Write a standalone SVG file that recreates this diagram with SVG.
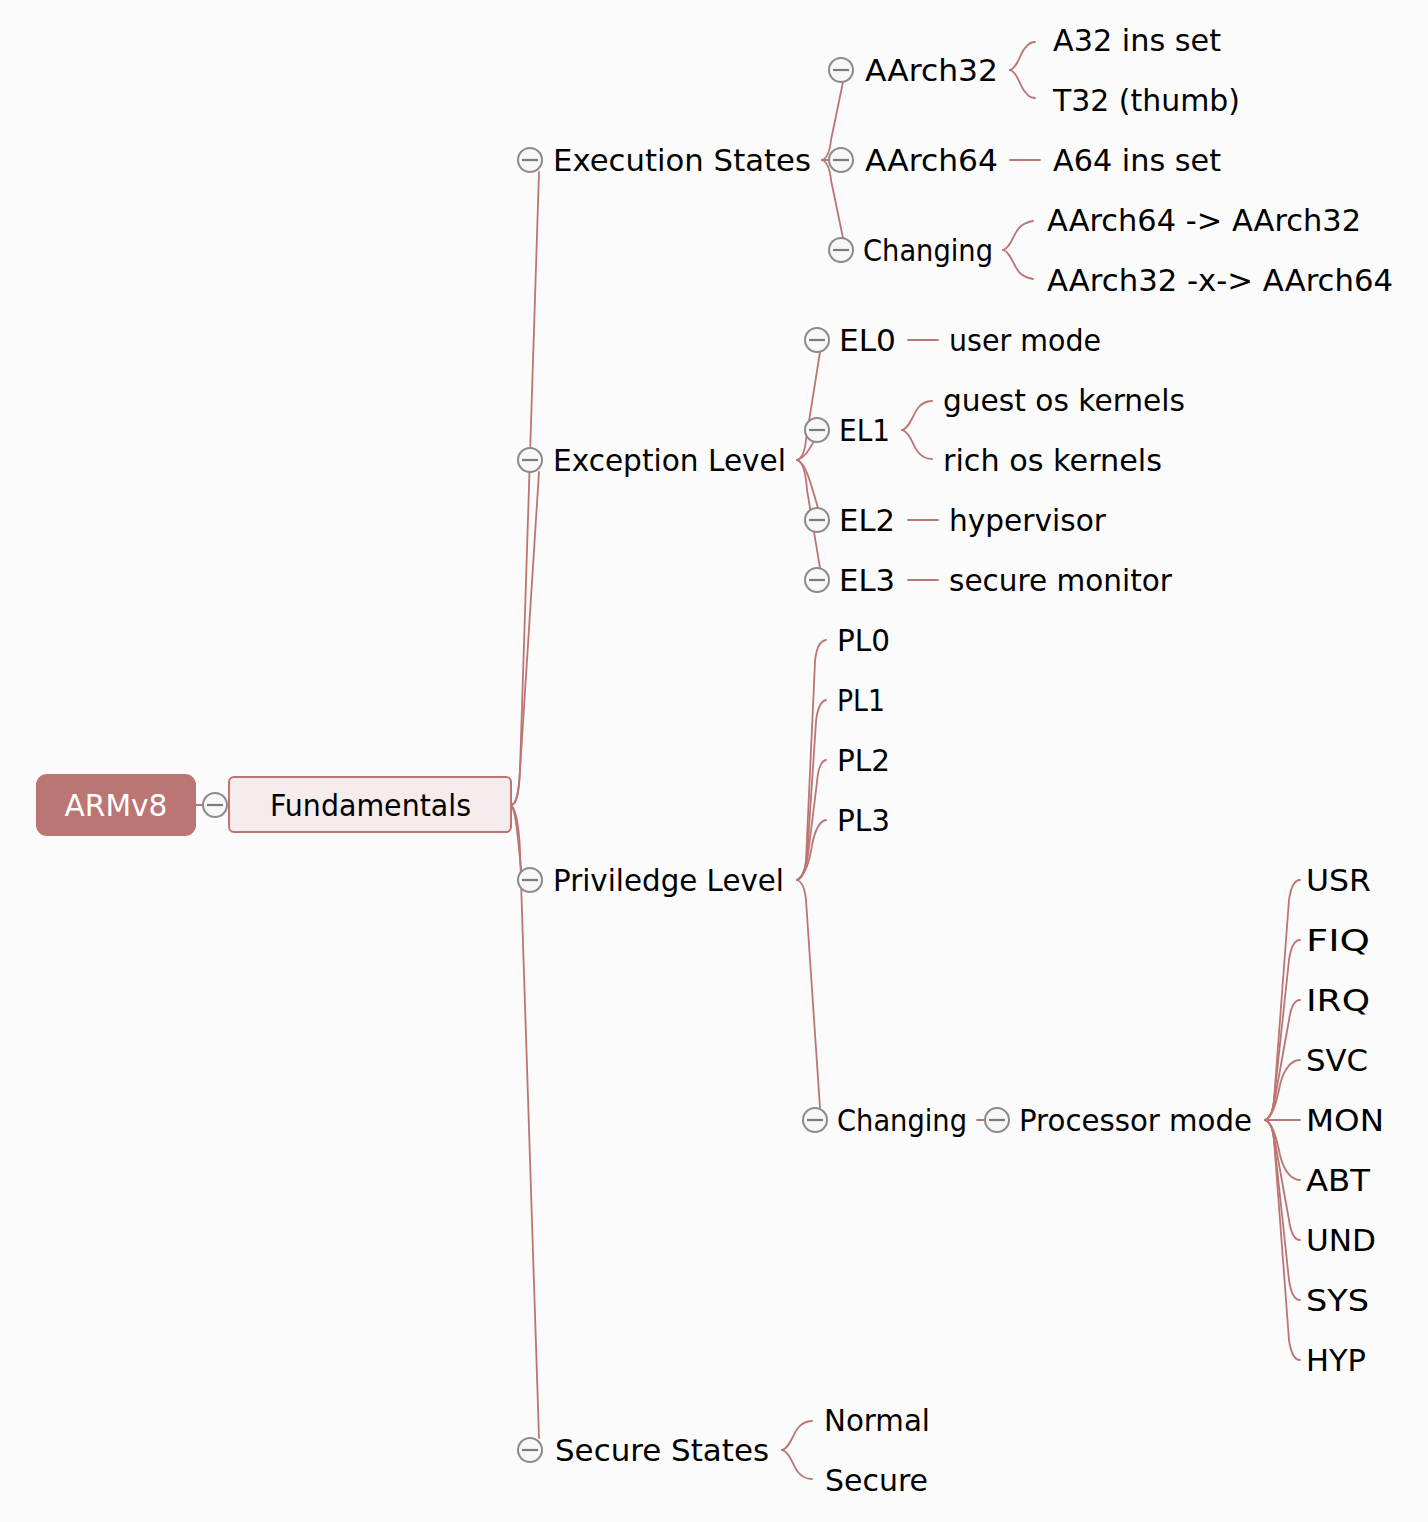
<svg xmlns="http://www.w3.org/2000/svg" xmlns:xlink="http://www.w3.org/1999/xlink" width="1428" height="1522" viewBox="0 0 1428 1522">
<style>
text{font-family:"DejaVu Sans","Liberation Sans",sans-serif;font-size:31px;fill:#000}
.c{fill:none;stroke:#bb7573;stroke-width:1.8;stroke-linecap:round}
</style>
<defs>
<g id="minus"><circle cx="0" cy="0" r="12" fill="#f7f7f7" stroke="#8a8a8a" stroke-width="2"/><line x1="-8" y1="0" x2="8" y2="0" stroke="#7a7a7a" stroke-width="2.2"/></g>
</defs>
<rect width="1428" height="1522" fill="#fbfbfb"/>
<g id="connectors">
<line class="c" x1="196" y1="805" x2="203" y2="805"/>
<path class="c" d="M511,805 C517,805 519,790 520,770 L539,172"/>
<path class="c" d="M511,805 C517,805 519,790 520,770 L539,472"/>
<path class="c" d="M511,805 C516,810 518,840 521,869"/>
<path class="c" d="M511,805 C517,810 519,830 520,850 L539,1438"/>
<path class="c" d="M822,160 C828,158 830,150 831,140 L843,82"/>
<line class="c" x1="822" y1="160" x2="829" y2="160"/>
<path class="c" d="M822,160 C828,162 830,170 831,180 L843,238"/>
<path class="c" d="M1010,70 C1018,68 1020,52 1026,47 C1029,43 1032,42 1035,42"/>
<path class="c" d="M1010,70 C1018,72 1020,88 1026,93 C1029,97 1032,98 1035,98"/>
<line class="c" x1="1010" y1="160" x2="1040" y2="160"/>
<path class="c" d="M1003,250 C1011,248 1014,232 1020,227 C1024,223 1028,222 1033,221"/>
<path class="c" d="M1003,250 C1011,252 1014,268 1020,273 C1024,277 1028,278 1033,279"/>
<path class="c" d="M797,460 C803,458 805,450 806,440 L820,352"/>
<path class="c" d="M797,460 C805,458 810,448 814,441"/>
<path class="c" d="M797,460 C805,462 810,480 818,508"/>
<path class="c" d="M797,460 C803,462 806,475 807,490 L820,568"/>
<line class="c" x1="908" y1="340" x2="938" y2="340"/>
<path class="c" d="M902,430 C910,428 913,414 918,408 C922,403 927,401 932,401"/>
<path class="c" d="M902,430 C910,432 913,446 918,452 C922,457 927,459 932,459"/>
<line class="c" x1="908" y1="520" x2="938" y2="520"/>
<line class="c" x1="908" y1="580" x2="938" y2="580"/>
<path class="c" d="M797,880 C803,878 805,870 806,860 L815,662 C816,649 820,641 826,640"/>
<path class="c" d="M797,880 C803,878 805,870 807,858 L816,722 C817,709 821,701 826,700"/>
<path class="c" d="M797,880 C803,877 806,868 808,855 L817,782 C818,769 821,761 826,760"/>
<path class="c" d="M797,880 C805,876 810,860 812,845 C815,830 820,821 826,820"/>
<path class="c" d="M797,880 C803,882 805,890 806,900 L820,1108"/>
<line class="c" x1="977" y1="1120" x2="985" y2="1120"/>
<path class="c" d="M1265,1120 C1271,1118 1273,1110 1274,1100 L1289,900 C1291,886 1295,880 1300,880"/>
<path class="c" d="M1265,1120 C1271,1118 1273,1110 1274,1100 L1289,960 C1291,946 1295,940 1300,940"/>
<path class="c" d="M1265,1120 C1271,1118 1273,1110 1275,1098 L1289,1020 C1291,1006 1295,1000 1300,1000"/>
<path class="c" d="M1265,1120 C1272,1117 1276,1105 1280,1085 C1284,1068 1292,1060 1300,1060"/>
<line class="c" x1="1265" y1="1120" x2="1300" y2="1120"/>
<path class="c" d="M1265,1120 C1272,1123 1276,1135 1280,1155 C1284,1172 1292,1180 1300,1180"/>
<path class="c" d="M1265,1120 C1271,1122 1273,1130 1275,1142 L1289,1220 C1291,1234 1295,1240 1300,1240"/>
<path class="c" d="M1265,1120 C1271,1122 1273,1130 1274,1140 L1289,1280 C1291,1294 1295,1300 1300,1300"/>
<path class="c" d="M1265,1120 C1271,1122 1273,1130 1274,1140 L1289,1340 C1291,1354 1295,1360 1300,1360"/>
<path class="c" d="M782,1450 C790,1448 793,1434 798,1428 C802,1423 807,1421 812,1421"/>
<path class="c" d="M782,1450 C790,1452 793,1466 798,1472 C802,1477 807,1479 812,1479"/>
</g>
<g id="node-root">
<rect x="36" y="774" width="160" height="62" rx="11" fill="#bb7573"/>
<text x="116" y="816" text-anchor="middle" textLength="103" lengthAdjust="spacingAndGlyphs" style="fill:#fff">ARMv8</text>
<use xlink:href="#minus" x="215" y="805"/>
</g>
<g id="node-fundamentals">
<rect x="229" y="777" width="282" height="55" rx="5" fill="#f6ecec" stroke="#bb7573" stroke-width="2"/>
<text x="270" y="816" textLength="201" lengthAdjust="spacingAndGlyphs">Fundamentals</text>
</g>
<g id="node-execution-states"><use xlink:href="#minus" x="530" y="160"/><text x="553" y="171" textLength="258" lengthAdjust="spacingAndGlyphs">Execution States</text></g>
<g id="node-exception-level"><use xlink:href="#minus" x="530" y="460"/><text x="553" y="471" textLength="233" lengthAdjust="spacingAndGlyphs">Exception Level</text></g>
<g id="node-priviledge-level"><use xlink:href="#minus" x="530" y="880"/><text x="553" y="891" textLength="231" lengthAdjust="spacingAndGlyphs">Priviledge Level</text></g>
<g id="node-secure-states"><use xlink:href="#minus" x="530" y="1450"/><text x="555" y="1461" textLength="214" lengthAdjust="spacingAndGlyphs">Secure States</text></g>
<g id="node-aarch32"><use xlink:href="#minus" x="841" y="70"/><text x="865" y="81" textLength="133" lengthAdjust="spacingAndGlyphs">AArch32</text></g>
<g id="node-aarch64"><use xlink:href="#minus" x="841" y="160"/><text x="865" y="171" textLength="133" lengthAdjust="spacingAndGlyphs">AArch64</text></g>
<g id="node-changing-es"><use xlink:href="#minus" x="841" y="250"/><text x="863" y="261" textLength="130" lengthAdjust="spacingAndGlyphs">Changing</text></g>
<g id="node-a32"><text x="1053" y="51" textLength="168" lengthAdjust="spacingAndGlyphs">A32 ins set</text></g>
<g id="node-t32"><text x="1053" y="111" textLength="187" lengthAdjust="spacingAndGlyphs">T32 (thumb)</text></g>
<g id="node-a64"><text x="1053" y="171" textLength="168" lengthAdjust="spacingAndGlyphs">A64 ins set</text></g>
<g id="node-64to32"><text x="1047" y="231" textLength="314" lengthAdjust="spacingAndGlyphs">AArch64 -&gt; AArch32</text></g>
<g id="node-32to64"><text x="1047" y="291" textLength="346" lengthAdjust="spacingAndGlyphs">AArch32 -x-&gt; AArch64</text></g>
<g id="node-el0"><use xlink:href="#minus" x="817" y="340"/><text x="839" y="351" textLength="57" lengthAdjust="spacingAndGlyphs">EL0</text></g>
<g id="node-el1"><use xlink:href="#minus" x="817" y="430"/><text x="839" y="441" textLength="51" lengthAdjust="spacingAndGlyphs">EL1</text></g>
<g id="node-el2"><use xlink:href="#minus" x="817" y="520"/><text x="839" y="531" textLength="56" lengthAdjust="spacingAndGlyphs">EL2</text></g>
<g id="node-el3"><use xlink:href="#minus" x="817" y="580"/><text x="839" y="591" textLength="56" lengthAdjust="spacingAndGlyphs">EL3</text></g>
<g id="node-user-mode"><text x="949" y="351" textLength="152" lengthAdjust="spacingAndGlyphs">user mode</text></g>
<g id="node-guest"><text x="943" y="411" textLength="242" lengthAdjust="spacingAndGlyphs">guest os kernels</text></g>
<g id="node-rich"><text x="943" y="471" textLength="219" lengthAdjust="spacingAndGlyphs">rich os kernels</text></g>
<g id="node-hypervisor"><text x="949" y="531" textLength="157" lengthAdjust="spacingAndGlyphs">hypervisor</text></g>
<g id="node-secure-monitor"><text x="949" y="591" textLength="223" lengthAdjust="spacingAndGlyphs">secure monitor</text></g>
<g id="node-pl0"><text x="837" y="651" textLength="53" lengthAdjust="spacingAndGlyphs">PL0</text></g>
<g id="node-pl1"><text x="837" y="711" textLength="48" lengthAdjust="spacingAndGlyphs">PL1</text></g>
<g id="node-pl2"><text x="837" y="771" textLength="53" lengthAdjust="spacingAndGlyphs">PL2</text></g>
<g id="node-pl3"><text x="837" y="831" textLength="53" lengthAdjust="spacingAndGlyphs">PL3</text></g>
<g id="node-changing-pl"><use xlink:href="#minus" x="815" y="1120"/><text x="837" y="1131" textLength="130" lengthAdjust="spacingAndGlyphs">Changing</text></g>
<g id="node-processor-mode"><use xlink:href="#minus" x="997" y="1120"/><text x="1019" y="1131" textLength="233" lengthAdjust="spacingAndGlyphs">Processor mode</text></g>
<g id="node-usr"><text x="1306" y="891" textLength="65" lengthAdjust="spacingAndGlyphs">USR</text></g>
<g id="node-fiq"><text x="1306" y="951" textLength="64" lengthAdjust="spacingAndGlyphs">FIQ</text></g>
<g id="node-irq"><text x="1306" y="1011" textLength="64" lengthAdjust="spacingAndGlyphs">IRQ</text></g>
<g id="node-svc"><text x="1306" y="1071" textLength="62" lengthAdjust="spacingAndGlyphs">SVC</text></g>
<g id="node-mon"><text x="1306" y="1131" textLength="78" lengthAdjust="spacingAndGlyphs">MON</text></g>
<g id="node-abt"><text x="1306" y="1191" textLength="64" lengthAdjust="spacingAndGlyphs">ABT</text></g>
<g id="node-und"><text x="1306" y="1251" textLength="70" lengthAdjust="spacingAndGlyphs">UND</text></g>
<g id="node-sys"><text x="1306" y="1311" textLength="63" lengthAdjust="spacingAndGlyphs">SYS</text></g>
<g id="node-hyp"><text x="1306" y="1371" textLength="60" lengthAdjust="spacingAndGlyphs">HYP</text></g>
<g id="node-normal"><text x="824" y="1431" textLength="106" lengthAdjust="spacingAndGlyphs">Normal</text></g>
<g id="node-secure"><text x="825" y="1491" textLength="103" lengthAdjust="spacingAndGlyphs">Secure</text></g>
</svg>
